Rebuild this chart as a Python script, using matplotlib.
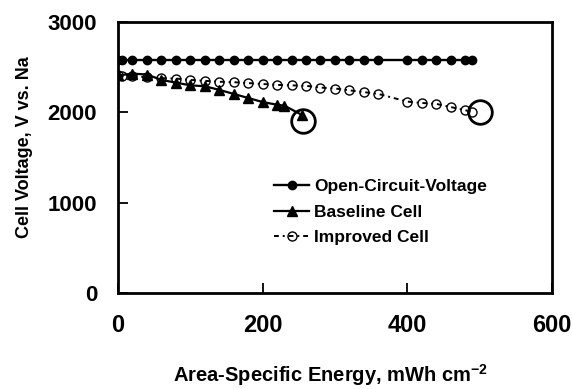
import matplotlib as mpl
mpl.use("Agg")
import matplotlib.pyplot as plt

mpl.rcParams.update({
    "font.family": "Liberation Sans",
    "font.weight": "bold",
    "axes.labelweight": "bold",
    "mathtext.fontset": "custom",
    "mathtext.rm": "Liberation Sans:bold",
    "mathtext.bf": "Liberation Sans:bold",
})

# energy (mWh cm^-2) and voltage (mV vs. Na)
ocv_x = [0, 5, 20, 40, 60, 80, 100, 120, 140, 160, 180, 200, 220, 240, 260,
         280, 300, 320, 340, 360, 400, 420, 440, 460, 480, 490]
ocv_y = [2580] * len(ocv_x)

base_x = [0, 20, 40, 60, 80, 100, 120, 140, 160, 180, 200, 220, 230, 255]
base_y = [2410, 2430, 2420, 2360, 2330, 2300, 2290, 2250, 2205, 2160, 2115,
          2085, 2075, 1970]

impr_x = [0, 5, 20, 40, 60, 80, 100, 120, 140, 160, 180, 200, 220, 240, 260,
          280, 300, 320, 340, 360, 400, 420, 440, 460, 480, 490]
impr_y = [2410, 2405, 2400, 2390, 2380, 2375, 2360, 2350, 2340, 2335, 2325,
          2315, 2305, 2300, 2295, 2275, 2265, 2245, 2225, 2205, 2120, 2105,
          2095, 2060, 2025, 2005]

# end-of-life points circled
end_x = [256, 500]
end_y = [1910, 2000]

x_ticks = [0, 200, 400, 600]
y_ticks = [0, 1000, 2000, 3000]

fig = plt.figure(figsize=(5.73, 3.89), dpi=100)
ax = fig.add_axes([0.206, 0.247, 0.757, 0.696])

ax.plot(ocv_x, ocv_y, color="black", lw=1.7, marker="o", ms=6,
        label="Open-Circuit-Voltage")
ax.plot(base_x, base_y, color="black", lw=1.6, marker="^", ms=6.5,
        label="Baseline Cell")
ax.plot(impr_x, impr_y, color="black", lw=1.4, dashes=[2.5, 2.0, 1.0, 2.0],
        marker="o", ms=6.5, mfc="none", mew=1.0, label="Improved Cell")
ax.plot(end_x, end_y, ls="none", marker="o", ms=17, mfc="none",
        mec="black", mew=2.0)

ax.set_xlim(x_ticks[0], x_ticks[-1])
ax.set_ylim(y_ticks[0], y_ticks[-1])
ax.set_xticks(x_ticks)
ax.set_yticks(y_ticks)
ax.tick_params(direction="in", length=7, width=1.3, labelsize=16)
ax.tick_params(axis="x", pad=15, labelsize=17)
ax.tick_params(axis="y", pad=15)
for s in ax.spines.values():
    s.set_linewidth(2.0)

ax.set_xlabel(r"Area-Specific Energy, mWh cm$^{-2}$", fontsize=14.5)
ax.set_ylabel("Cell Voltage, V vs. Na", fontsize=13)
ax.xaxis.set_label_coords(0.49, -0.255)
ax.yaxis.set_label_coords(-0.196, 0.54)

ax.legend(loc="upper left", bbox_to_anchor=(0.36, 0.42), frameon=False,
          fontsize=12.5, handlelength=2.0, handletextpad=0.3, labelspacing=0.6,
          borderaxespad=0, borderpad=0)

fig.savefig("out.png", dpi=100)
